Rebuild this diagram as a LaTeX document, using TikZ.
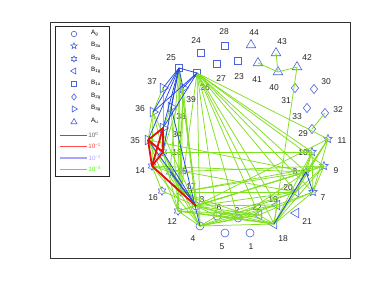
\documentclass[tikz,border=0pt]{standalone}
\usepackage{fontspec}
\setmainfont{Liberation Sans}
\usetikzlibrary{shapes.geometric}
\definecolor{modeblue}{HTML}{4F63DB}
\definecolor{cplgreen}{HTML}{7FE01F}
\definecolor{cplblue}{HTML}{2248E6}
\definecolor{cplred}{HTML}{E41010}
\tikzset{
 mode/.style={draw=modeblue,line width=.6pt,inner sep=0pt},
 mode ag/.style={mode,circle,minimum size=8pt},
 mode b3u/.style={mode,star,star points=5,star point ratio=2.3,minimum size=9pt},
 mode b2u/.style={mode,star,star points=6,star point ratio=1.7,minimum size=8.5pt},
 mode b1g/.style={mode,regular polygon,regular polygon sides=3,
   shape border rotate=90,minimum size=11pt},
 mode b1u/.style={mode,rectangle,minimum size=7pt},
 mode b2g/.style={mode,diamond,minimum width=7.5pt,minimum height=9.5pt},
 mode b3g/.style={mode,regular polygon,regular polygon sides=3,
   shape border rotate=-90,minimum size=11pt},
 mode au/.style={mode,regular polygon,regular polygon sides=3,minimum size=11pt},
 mode label/.style={font=\fontsize{8.5}{10}\selectfont,inner sep=0pt,text=black!85},
 legend text/.style={font=\fontsize{6.3}{7}\selectfont,inner sep=0pt,anchor=west},
 cpl weak/.style={draw=cplgreen,line width=.75pt},
 cpl mid/.style={draw=cplblue,line width=.75pt},
 cpl strong/.style={draw=cplred,line width=1.8pt}
}

\begin{document}
\begin{tikzpicture}[x=1pt,y=-1pt]
\useasboundingbox[fill=white] (0,0) rectangle (387,291);
\draw[black!80,line width=.7pt] (50,22) rectangle (350,258);
% modes
\foreach \n/\x/\y/\lx/\ly in {1/250/233/251/247,2/238/218/237/211,3/196/206/202/200,
  4/200/226/193/239,5/225/233/222/247,6/217/216/219/208}{
  \node[mode ag] (m\n) at (\x,\y) {};
  \node[mode label] (t\n) at (\lx,\ly) {\n};}
\foreach \n/\x/\y/\lx/\ly in {7/313/192/323/198,8/306/172/295/172,9/324/166/336/171,
  10/312/152/303/153,11/328/139/342/141}{
  \node[mode b3u] (m\n) at (\x,\y) {};
  \node[mode label] (t\n) at (\lx,\ly) {\n};}
\foreach \n/\x/\y/\lx/\ly in {12/178/211/172/222,13/163/152/177/153,14/152/166/140/171,
  15/170/172/182/172,16/162/191/153/198,17/181/192/191/187}{
  \node[mode b2u] (m\n) at (\x,\y) {};
  \node[mode label] (t\n) at (\lx,\ly) {\n};}
\foreach \n/\x/\y/\lx/\ly in {18/274/224/283/239,19/277/205/273/200,20/296/192/288/188,
  21/296/213/307/222,22/259/215/257/208}{
  \node[mode b1g] (m\n) at (\x,\y) {};
  \node[mode label] (t\n) at (\lx,\ly) {\n};}
\foreach \n/\x/\y/\lx/\ly in {23/238/61/239/77,24/201/53/196/41,25/179/68/171/58,
  26/197/73/205/88,27/217/64/221/79,28/225/46/224/32}{
  \node[mode b1u] (m\n) at (\x,\y) {};
  \node[mode label] (t\n) at (\lx,\ly) {\n};}
\foreach \n/\x/\y/\lx/\ly in {29/312/129/303/134,30/314/89/326/82,31/295/88/286/101,
  32/325/113/338/110,33/307/108/297/117}{
  \node[mode b2g] (m\n) at (\x,\y) {};
  \node[mode label] (t\n) at (\lx,\ly) {\n};}
\foreach \n/\x/\y/\lx/\ly in {34/163/128/177/135,35/148/140/135/141,36/153/112/140/109,
  37/163/88/152/82,38/171/107/181/117,39/183/88/191/100}{
  \node[mode b3g] (m\n) at (\x,\y) {};
  \node[mode label] (t\n) at (\lx,\ly) {\n};}
\foreach \n/\x/\y/\lx/\ly in {40/278/72/274/88,41/258/63/257/80,42/297/67/307/58,
  43/276/53/282/42,44/251/45/254/33}{
  \node[mode au] (m\n) at (\x,\y) {};
  \node[mode label] (t\n) at (\lx,\ly) {\n};}
% couplings
\foreach \a/\b in {40/43,40/41,40/42,42/18,29/32,
  26/8,26/9,26/7,26/10,26/11,26/20,26/19,26/18,26/22,26/2,26/6,26/4,26/17,
  25/3,25/17,25/15,25/12,25/4,39/3,39/17,39/12,38/12,37/36,37/34,36/35,36/14,
  38/13,38/34,39/13,36/3,35/4,14/4,13/4,36/12,35/12,
  14/8,15/9,13/10,35/8,14/20,3/8,3/9,3/20,3/19,3/18,3/22,3/2,3/6,3/11,
  4/18,4/22,4/2,4/6,4/19,4/20,6/18,6/20,6/19,2/18,2/19,2/22,2/8,
  12/18,12/22,12/2,12/6,12/4,12/3,12/8,17/18,17/20,17/8,17/2,17/9,
  16/14,16/3,15/3,15/17,13/17,14/17,14/15,35/15,
  18/11,18/9,18/10,18/7,18/20,18/22,18/19,
  11/8,11/7,10/7,10/8,9/8,9/7,9/20,10/20,8/20,7/19,7/22,11/20}
  \draw[cpl weak] (m\a.center) -- (m\b.center);
\foreach \a/\b in {25/26,25/37,25/36,25/38,25/35,25/34,25/13,25/39,26/39,26/36,26/34,
  3/13,3/15,3/35,4/38,17/14,18/8,8/7}
  \draw[cpl mid] (m\a.center) -- (m\b.center);
\foreach \a/\b in {34/35,34/13,34/14,35/13,35/14,13/14,14/3}
  \draw[cpl strong] (m\a.center) -- (m\b.center);
% legend
\draw[black!85,line width=.6pt,fill=white] (55,26) rectangle (109,176);
\node[mode ag,minimum size=5.5pt] (k1) at (74,34) {};
\node[legend text] at (91,33) {A\textsubscript{g}};
\node[mode b3u,minimum size=6.5pt] (k2) at (74,46) {};
\node[legend text] at (91,45) {B\textsubscript{3u}};
\node[mode b2u,minimum size=6pt] (k3) at (74,59) {};
\node[legend text] at (91,58) {B\textsubscript{2u}};
\node[mode b1g,minimum size=7pt] (k4) at (74,71) {};
\node[legend text] at (91,70) {B\textsubscript{1g}};
\node[mode b1u,minimum size=4.5pt] (k5) at (74,84) {};
\node[legend text] at (91,83) {B\textsubscript{1u}};
\node[mode b2g,minimum width=5pt,minimum height=6.5pt] (k6) at (74,97) {};
\node[legend text] at (91,96) {B\textsubscript{2g}};
\node[mode b3g,minimum size=7pt] (k7) at (74,109) {};
\node[legend text] at (91,108) {B\textsubscript{3g}};
\node[mode au,minimum size=7pt] (k8) at (74,122) {};
\node[legend text] at (91,121) {A\textsubscript{u}};
\draw[black!60,line width=.8pt] (60,135) -- (87,135) node[legend text,right=1pt] {10\textsuperscript{0}};
\draw[red!70,line width=.8pt] (60,146) -- (87,146) node[legend text,right=1pt] {10\textsuperscript{−1}};
\draw[blue!35,line width=1.2pt] (60,158) -- (87,158) node[legend text,right=1pt] {10\textsuperscript{−2}};
\draw[green!75!yellow,line width=.8pt] (60,169) -- (87,169) node[legend text,right=1pt] {10\textsuperscript{−3}};
\end{tikzpicture}
\end{document}
